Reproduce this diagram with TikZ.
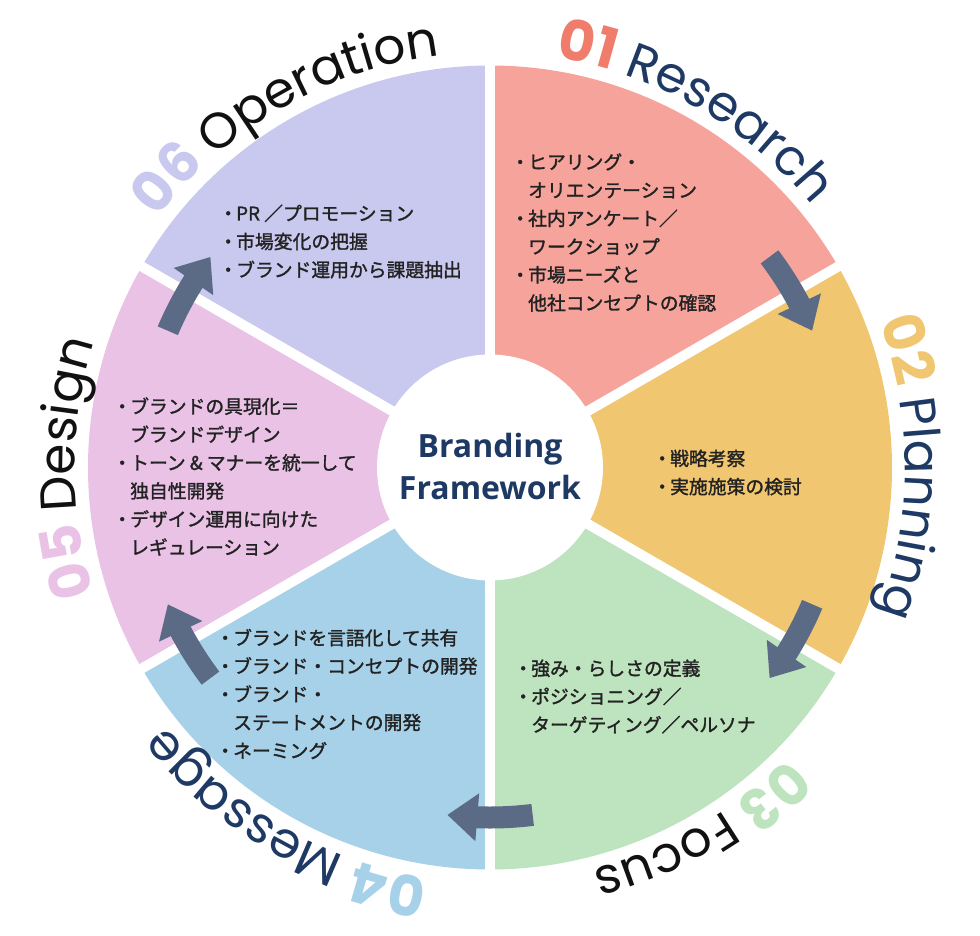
\documentclass[tikz,border=0pt]{standalone}
\usepackage{fontspec}
\usepackage{xcolor}
\usepackage{tikz}
\usetikzlibrary{decorations.text,arrows.meta,bending}

\setmainfont{Noto Sans CJK JP}
\newfontfamily\jpfont{Noto Sans CJK JP}[FakeBold=1.5]
\newfontfamily\lblfont{Poppins}
\newfontfamily\ctrfont{Open Sans}

% sector fills
\definecolor{resC}{HTML}{F6A39B}
\definecolor{plaC}{HTML}{F0C670}
\definecolor{focC}{HTML}{BEE3BF}
\definecolor{mesC}{HTML}{A6D1E9}
\definecolor{desC}{HTML}{E9C2E6}
\definecolor{opeC}{HTML}{C9C9EF}
% numbers, words, arrows
\definecolor{numR}{HTML}{F07C6C}
\definecolor{navC}{HTML}{1E3A64}
\definecolor{blkC}{HTML}{111111}
\definecolor{txtC}{HTML}{222222}
\definecolor{arrC}{HTML}{5C6B85}

\newcommand{\bul}{\makebox[16pt][c]{・}}
\newcommand{\ind}{\hspace*{16pt}}

% curved step label: mid angle, number colour, number, word, word colour
\newcommand{\steplabel}[5]{%
  \path[decorate, decoration={text along path, text align=center,
      text={|\lblfont\fontsize{56}{56}\selectfont\bfseries\color{#2}|#3 |\lblfont\fontsize{50}{50}\selectfont\color{#5}|#4}}]
    (#1+40:415) arc[start angle=#1+40, end angle=#1-40, radius=415pt];}

\begin{document}
\begin{tikzpicture}[x=1pt, y=1pt,
    item/.style={anchor=west, align=left, inner sep=0pt, text=txtC, font=\jpfont\fontsize{18.8}{28.2}\selectfont},
    flow/.style={draw=arrC, line width=22pt, -{Triangle[width=46pt,length=30pt]}},
    gap/.style={draw=white, line width=10pt}]

    \useasboundingbox (-490,-467.5) rectangle (490,467.5);

    % Sectors
    \fill[resC] (0,0) -- (90:402) arc[start angle=90, end angle=30, radius=402pt] -- cycle;
    \fill[plaC] (0,0) -- (30:402) arc[start angle=30, end angle=-30, radius=402pt] -- cycle;
    \fill[focC] (0,0) -- (-30:402) arc[start angle=-30, end angle=-90, radius=402pt] -- cycle;
    \fill[mesC] (0,0) -- (-90:402) arc[start angle=-90, end angle=-150, radius=402pt] -- cycle;
    \fill[desC] (0,0) -- (-150:402) arc[start angle=-150, end angle=-210, radius=402pt] -- cycle;
    \fill[opeC] (0,0) -- (150:402) arc[start angle=150, end angle=90, radius=402pt] -- cycle;

    % White gaps and centre
    \foreach \a in {90,30,-30,-90,-150,150}
        \draw[gap] (0,0) -- (\a:408);
    \fill[white] (0,0) circle[radius=113pt];
    \node[font=\ctrfont\bfseries\fontsize{32}{42}\selectfont, text=navC, align=center] (ctr) at (0,1.5) {Branding\\Framework};

    % Sector texts
    \node[item] (res) at (22,235) {\bul ヒアリング・\\ \ind オリエンテーション\\ \bul 社内アンケート／\\ \ind ワークショップ\\ \bul 市場ニーズと\\ \ind 他社コンセプトの確認};
    \node[item] (pla) at (164,-5) {\bul 戦略考察\\ \bul 実施施策の検討};
    \node[item] (foc) at (25,-229) {\bul 強み・らしさの定義\\ \bul ポジショニング／\\ \ind ターゲティング／ペルソナ};
    \node[item] (mes) at (-273,-226.5) {\bul ブランドを言語化して共有\\ \bul ブランド・コンセプトの開発\\ \bul ブランド・\\ \ind ステートメントの開発\\ \bul ネーミング};
    \node[item] (des) at (-376,-9) {\bul ブランドの具現化＝\\ \ind ブランドデザイン\\ \bul トーン \& マナーを統一して\\ \ind 独自性開発\\ \bul デザイン運用に向けた\\ \ind レギュレーション};
    \node[item] (ope) at (-270,226) {\bul PR ／プロモーション\\ \bul 市場変化の把握\\ \bul ブランド運用から課題抽出};

    % Flow arrows
    \draw[flow] (37:350) arc[start angle=37, end angle=23, radius=350pt];
    \draw[flow] (-23:350) arc[start angle=-23, end angle=-37, radius=350pt];
    \draw[flow] (-83:350) arc[start angle=-83, end angle=-97, radius=350pt];
    \draw[flow] (-143:350) arc[start angle=-143, end angle=-157, radius=350pt];
    \draw[flow] (-203:350) arc[start angle=-203, end angle=-217, radius=350pt];

    % Step labels
    \steplabel{60}{numR}{01}{Research}{navC}
    \steplabel{0}{plaC}{02}{Planning}{navC}
    \steplabel{-60}{focC}{03}{Focus}{blkC}
    \steplabel{-120}{mesC}{04}{Message}{navC}
    \steplabel{-180}{desC}{05}{Design}{blkC}
    \steplabel{-240}{opeC}{06}{Operation}{blkC}
\end{tikzpicture}
\end{document}
